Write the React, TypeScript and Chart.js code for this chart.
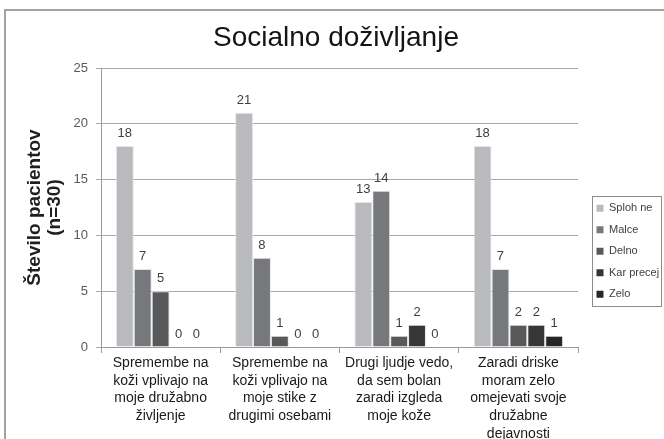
import React, { useEffect, useRef } from 'react';
import { Chart, registerables } from 'chart.js';

Chart.register(...registerables);

const chartTitle = 'Socialno doživljanje';
const yTitle = ['Število pacientov', '(n=30)'];
const categories = [
  ['Spremembe na', 'koži vplivajo na', 'moje družabno', 'življenje'],
  ['Spremembe na', 'koži vplivajo na', 'moje stike z', 'drugimi osebami'],
  ['Drugi ljudje vedo,', 'da sem bolan', 'zaradi izgleda', 'moje kože'],
  ['Zaradi driske', 'moram zelo', 'omejevati svoje', 'družabne', 'dejavnosti'],
];
const seriesNames = ['Sploh ne', 'Malce', 'Delno', 'Kar precej', 'Zelo'];
const splohNe = [18, 21, 13, 18];
const malce = [7, 8, 14, 7];
const delno = [5, 1, 1, 2];
const karPrecej = [0, 0, 2, 2];
const zelo = [0, 0, 0, 1];
const seriesColors = ['#b9babd', '#77787b', '#58595b', '#363637', '#262626'];
const yMin = 0;
const yMax = 25;
const yStep = 5;

const SANS = '"Liberation Sans", Arial, sans-serif';

const valueLabels = {
  id: 'valueLabels',
  afterDatasetsDraw(chart: any) {
    const ctx = chart.ctx;
    ctx.save();
    ctx.font = `13px ${SANS}`;
    ctx.fillStyle = '#404040';
    ctx.textAlign = 'center';
    ctx.textBaseline = 'alphabetic';
    chart.data.datasets.forEach((ds: any, di: number) => {
      const meta = chart.getDatasetMeta(di);
      meta.data.forEach((el: any, i: number) => {
        ctx.fillText(String(ds.data[i]), el.x, el.y - 9);
      });
    });
    ctx.restore();
  },
};

const legendFrame = {
  id: 'legendFrame',
  afterDraw(chart: any) {
    const lg = chart.legend;
    if (!lg || !lg.legendHitBoxes || !lg.legendHitBoxes.length) return;
    const hb = lg.legendHitBoxes;
    let l = Infinity, r = -Infinity, t = Infinity, b = -Infinity;
    hb.forEach((h: any) => {
      l = Math.min(l, h.left);
      r = Math.max(r, h.left + h.width);
      t = Math.min(t, h.top);
      b = Math.max(b, h.top + h.height);
    });
    const ctx = chart.ctx;
    ctx.save();
    ctx.strokeStyle = '#8c8c8c';
    ctx.lineWidth = 1;
    ctx.strokeRect(Math.round(l - 4.5) + 0.5, Math.round(t - 6.5) + 0.5, Math.round(r - l + 6.5), Math.round(b - t + 13));
    ctx.restore();
  },
};

export default function App() {
  const ref = useRef<HTMLCanvasElement | null>(null);

  useEffect(() => {
    if (!ref.current) return;
    const values = [splohNe, malce, delno, karPrecej, zelo];
    const chart = new Chart(ref.current, {
      type: 'bar',
      data: {
        labels: categories,
        datasets: seriesNames.map((name, i) => ({
          label: name,
          data: values[i],
          backgroundColor: seriesColors[i],
          borderColor: '#e4e4e4',
          borderWidth: 1,
          categoryPercentage: 0.75,
          barPercentage: 1.0,
        })),
      },
      options: {
        responsive: false,
        animation: false,
        devicePixelRatio: 1,
        layout: { padding: { left: 12, right: 4, top: 0, bottom: 0 } },
        plugins: {
          title: {
            display: true,
            text: chartTitle,
            color: '#141414',
            font: { family: SANS, size: 28, weight: 'normal', lineHeight: 1.2 },
            padding: { top: 21.5, bottom: 12.9 },
          },
          legend: {
            display: true,
            position: 'right',
            align: 'center',
            maxWidth: 74,
            title: { display: true, text: '', font: { size: 1, lineHeight: 1 }, padding: { top: 62.5, bottom: 0 } },
            labels: {
              boxWidth: 7,
              boxHeight: 7,
              padding: 10.5,
              color: '#404040',
              font: { family: SANS, size: 11 },
              generateLabels: (c: any) =>
                Chart.defaults.plugins.legend.labels
                  .generateLabels(c)
                  .map((it: any) => ({ ...it, lineWidth: 0, strokeStyle: it.fillStyle })),
            },
          },
          tooltip: { enabled: false },
        },
        scales: {
          x: {
            offset: true,
            grid: { display: true, drawOnChartArea: false, offset: true, tickLength: 6, color: '#9a9a9a' },
            border: { display: true, color: '#9a9a9a' },
            ticks: {
              autoSkip: false,
              maxRotation: 0,
              minRotation: 0,
              padding: 1,
              color: '#1a1a1a',
              font: { family: SANS, size: 14, lineHeight: 1.27 },
            },
            afterFit: (s: any) => {
              s.height = 92;
            },
          },
          y: {
            min: yMin,
            max: yMax,
            ticks: { stepSize: yStep, padding: 8, color: '#595959', font: { family: SANS, size: 13 } },
            grid: { color: '#a8a8a8', tickLength: 5 },
            border: { display: true, color: '#9a9a9a' },
            title: {
              display: true,
              text: yTitle,
              color: '#1f1f1f',
              font: { family: SANS, size: 19, weight: 'bold', lineHeight: 1.05 },
              padding: { top: 13, bottom: 0 },
            },
            afterFit: (s: any) => {
              s.width = 89;
            },
          },
          y2: {
            position: 'right',
            display: true,
            min: 0,
            max: 1,
            grid: { display: false },
            border: { display: false },
            ticks: { display: false },
            afterFit: (s: any) => {
              s.width = 8;
            },
          },
        },
      },
      plugins: [valueLabels, legendFrame],
    } as any);
    return () => chart.destroy();
  }, []);

  return (
    <div style={{ position: 'fixed', left: 0, top: 0, width: 664, height: 439, overflow: 'hidden', background: '#fff' }}>
      <div
        style={{
          position: 'absolute',
          left: 4,
          top: 9,
          width: 720,
          height: 520,
          border: '2px solid #a3a3a3',
          boxSizing: 'border-box',
        }}
      />
      <canvas
        ref={ref}
        width={664}
        height={439}
        style={{ position: 'absolute', left: 0, top: 0, width: 664, height: 439 }}
      />
    </div>
  );
}
